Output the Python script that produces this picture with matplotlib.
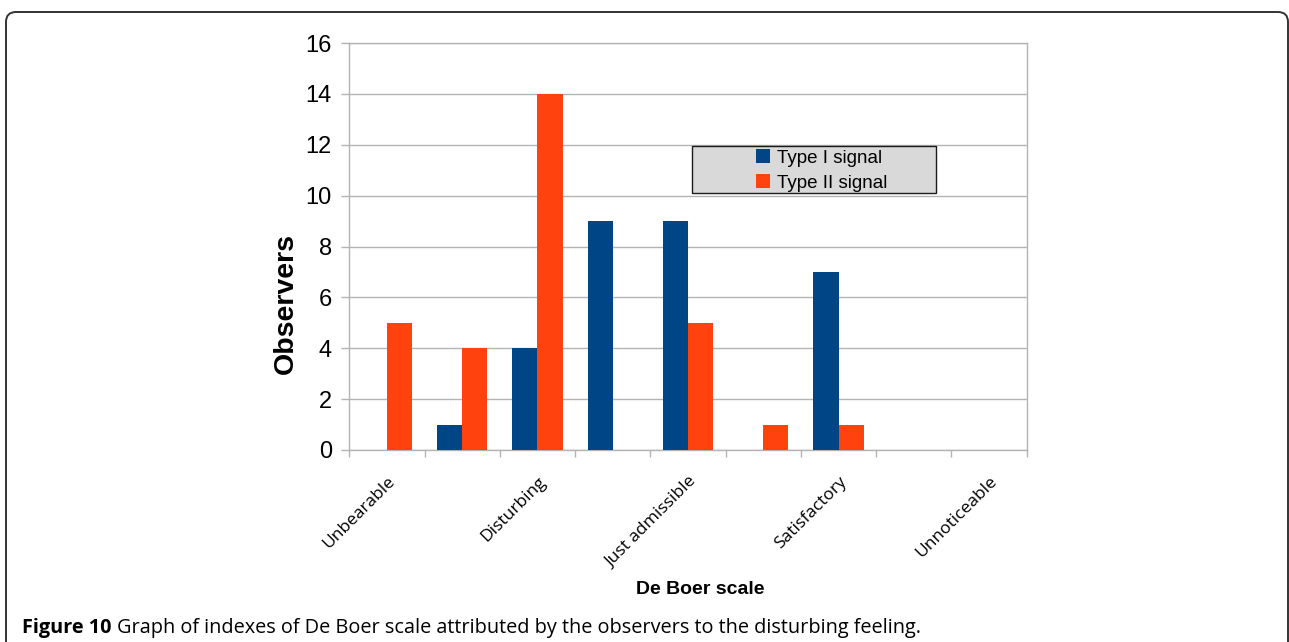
import matplotlib
matplotlib.use("Agg")
import matplotlib.pyplot as plt
from matplotlib.patches import FancyBboxPatch, Rectangle, Patch
from matplotlib.transforms import IdentityTransform
import numpy as np

# De Boer scale ratings given by observers
categories = ["Unbearable", "", "Disturbing", "", "Just admissible", "",
              "Satisfactory", "", "Unnoticeable"]
type1 = [0, 1, 4, 9, 9, 0, 7, 0, 0]
type2 = [5, 4, 14, 0, 5, 1, 1, 0, 0]
series_names = ["Type I signal", "Type II signal"]
yticks = [0, 2, 4, 6, 8, 10, 12, 14, 16]

BLUE = "#004586"
ORANGE = "#ff420e"
GRID = "#b3b3b3"

W, H = 1289, 642
fig = plt.figure(figsize=(W / 100, H / 100), dpi=100)

# outer frame with rounded top corners, open at the bottom edge (pixel units)
frame = FancyBboxPatch((6, -60), 1282, H - 12 + 60, transform=IdentityTransform(),
                       boxstyle="round,pad=0,rounding_size=10",
                       facecolor="none", edgecolor="#333333", linewidth=1.4,
                       clip_on=False)
fig.patches.append(frame)

left, right, top, bottom = 349.3, 1026.7, 43, 450
ax = fig.add_axes([left / W, 1 - bottom / H, (right - left) / W, (bottom - top) / H])

x = np.arange(1, len(categories) + 1)
bw = 1 / 3
ax.bar(x - bw / 2, type1, width=bw, color=BLUE, label=series_names[0], zorder=3)
ax.bar(x + bw / 2, type2, width=bw, color=ORANGE, label=series_names[1], zorder=3)

ax.set_xlim(0.5, len(categories) + 0.5)
ax.set_ylim(0, 16)
ax.set_yticks(yticks)
ax.set_yticklabels([str(v) for v in yticks], fontsize=17, family="Liberation Sans")
ax.yaxis.grid(True, color=GRID, linewidth=1.0, zorder=0)
ax.tick_params(axis="y", length=6, width=1, color=GRID, pad=6.5)

# category boundaries as major ticks, names as minor ticks
ax.set_xticks(np.arange(0.5, len(categories) + 1, 1.0))
ax.set_xticklabels([])
ax.tick_params(axis="x", which="major", length=5, width=1, color=GRID)
lab_idx = [i for i, c in enumerate(categories) if c]
ax.set_xticks(x[lab_idx], minor=True)
ax.set_xticklabels([categories[i] for i in lab_idx], minor=True, rotation=45,
                   ha="right", va="top", rotation_mode="anchor",
                   fontsize=12.5, family="Open Sans")
ax.tick_params(axis="x", which="minor", length=0, pad=17)

for s in ax.spines.values():
    s.set_color(GRID)
    s.set_linewidth(1.0)

ax.set_ylabel("Observers", fontsize=20.5, fontweight="bold",
              family="Liberation Sans")
ax.yaxis.set_label_coords((285.5 - left) / (right - left), (bottom - 303) / (bottom - top))
ax.yaxis.label.set_va("center")

# legend box
box = Rectangle(((692 - left) / (right - left), (bottom - 193) / (bottom - top)),
                (936 - 692) / (right - left), (193 - 146) / (bottom - top),
                transform=ax.transAxes, facecolor="#d9d9d9", edgecolor="#1a1a1a",
                linewidth=1.0, zorder=5)
ax.add_patch(box)
handles = [Patch(facecolor=BLUE), Patch(facecolor=ORANGE)]
leg = ax.legend(handles, series_names, loc="center left",
                bbox_to_anchor=((756 - left) / (right - left), (bottom - 170.5) / (bottom - top)),
                frameon=False, borderpad=0, borderaxespad=0,
                handlelength=0.75, handleheight=0.75, handletextpad=0.35,
                labelspacing=0.42, prop={"family": "Liberation Sans", "size": 13.5})
leg.set_zorder(6)

fig.text(700 / W, 1 - 589 / H, "De Boer scale", ha="center", va="center",
         fontsize=14, fontweight="bold", family="Liberation Sans")

cap_y = 1 - 633 / H
cap1 = fig.text(22 / W, cap_y, "Figure 10 ", ha="left", va="baseline",
                fontsize=14.3, fontweight="bold", family="Open Sans")
cap2 = fig.text(0, cap_y,
                "Graph of indexes of De Boer scale attributed by the observers to the disturbing feeling.",
                fontsize=14.3, family="Open Sans", ha="left", va="baseline")

# place the plain part of the caption right after the bold part
fig.canvas.draw()
bb = cap1.get_window_extent(fig.canvas.get_renderer())
cap2.set_position((bb.x1 / W, cap_y))

fig.savefig("out.png", dpi=100)
